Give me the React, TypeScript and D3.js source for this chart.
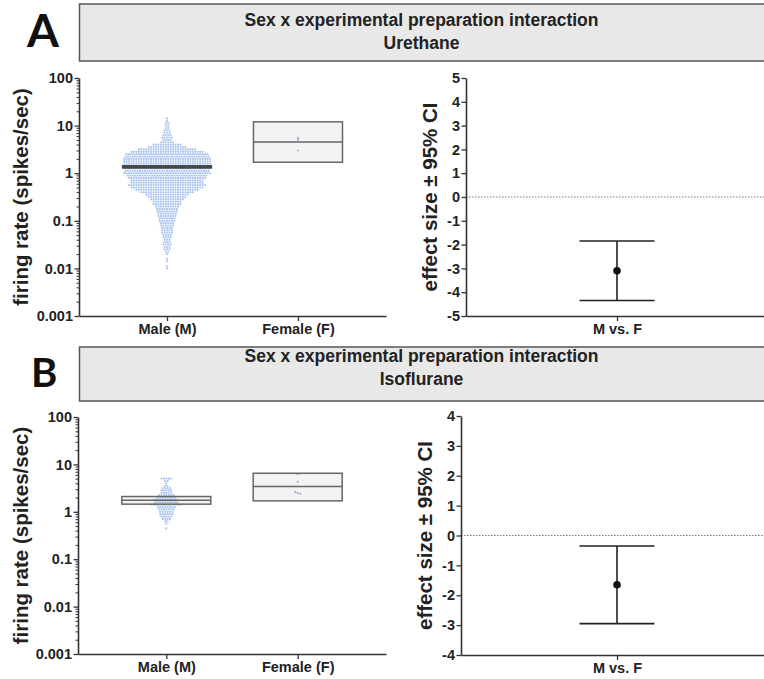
import React, { useEffect, useRef } from 'react';
import * as d3 from 'd3';

const groups = ['Male (M)', 'Female (F)'];
const contrast = ['M vs. F'];
const preparations = ['Urethane', 'Isoflurane'];
const panelLetters = ['A', 'B'];
const titleText = 'Sex x experimental preparation interaction';

const logTicks = [0.001, 0.01, 0.1, 1, 10, 100];
const logTickLabels = ['0.001', '0.01', '0.1', '1', '10', '100'];

// male firing rates as column-scatter rows: log10 of the top row, row step, points per row
const maleUrethaneTop = 1.15;
const maleUrethaneStep = 0.05;
const maleUrethaneCounts = [
  1, 1, 2, 2, 2, 3, 3, 4, 5, 4, 6,
  12, 16, 24, 30, 34, 35, 36, 36, 36, 35, 35, 35, 36,
  33, 32, 30, 30, 32, 30, 26, 22, 18, 16,
  14, 12, 12, 10, 9, 9, 8, 8, 7, 7,
  6, 6, 5, 5, 5, 4, 4, 3, 3, 4,
  3, 3, 2, 1, 0, 1, 1, 0, 1, 1,
];
const maleIsoTop = 0.7;
const maleIsoStep = 0.05;
const maleIsoCounts = [5, 2, 1, 2, 4, 5, 5, 7, 8, 10, 10, 13, 8, 7, 6, 6, 5, 4, 2, 1, 0, 1];

const femaleUrethane = [5.5, 5.0, 3.0];
const femaleIso = [6.2, 4.3, 2.6, 2.5, 2.4];

// [q1, median, q3]
const maleUrethaneBox = [1.28, 1.35, 1.44];
const femaleUrethaneBox = [1.7, 4.5, 12];
const maleIsoBox = [1.45, 1.75, 2.1];
const femaleIsoBox = [1.7, 3.4, 6.5];

// [mean, lower CI, upper CI]
const effectUrethane = [-3.1, -4.35, -1.85];
const effectIso = [-1.65, -2.95, -0.35];
const effectTicksUrethane = [-5, -4, -3, -2, -1, 0, 1, 2, 3, 4, 5];
const effectTicksIso = [-4, -3, -2, -1, 0, 1, 2, 3, 4];

const FONT = "'Liberation Sans', Arial, Helvetica, sans-serif";
const INK = '#222';
const AXIS = '#333';

const panels = [
  {
    letter: panelLetters[0], letterSize: 46, letterX: 27, letterY: 47,
    boxY: 4, boxH: 57, t1: 26, t2: 49, sub: preparations[0],
    lx: 79, ltop: 78, lbot: 316, lright: 386,
    rx: 466, rtop: 78, rbot: 316, rEnd: 768,
    effDomain: [-5, 5], effTicks: effectTicksUrethane, effect: effectUrethane,
    top: maleUrethaneTop, step: maleUrethaneStep, counts: maleUrethaneCounts,
    maleBox: maleUrethaneBox, femaleBox: femaleUrethaneBox, female: femaleUrethane,
    maleBar: true,
  },
  {
    letter: panelLetters[1], letterSize: 40, letterX: 31, letterY: 387,
    boxY: 347, boxH: 54, t1: 362, t2: 385, sub: preparations[1],
    lx: 78, ltop: 417, lbot: 654, lright: 386,
    rx: 461, rtop: 416, rbot: 655, rEnd: 773,
    effDomain: [-4, 4], effTicks: effectTicksIso, effect: effectIso,
    top: maleIsoTop, step: maleIsoStep, counts: maleIsoCounts,
    maleBox: maleIsoBox, femaleBox: femaleIsoBox, female: femaleIso,
    maleBar: false,
  },
];

const App: React.FC = () => {
  const svgRef = useRef<SVGSVGElement>(null);

  useEffect(() => {
    const svg = d3.select(svgRef.current);
    svg.selectAll('*').remove();

    const styleAxis = (g: any) => {
      g.select('.domain').attr('stroke', AXIS).attr('stroke-width', 1.6);
      g.selectAll('.tick line').attr('stroke', AXIS).attr('stroke-width', 1.3);
      g.selectAll('.tick text')
        .attr('fill', INK)
        .attr('font-family', FONT)
        .attr('font-weight', 'bold')
        .attr('font-size', 14.5);
    };

    panels.forEach((p) => {
      // header
      svg.append('text')
        .attr('x', p.letterX)
        .attr('y', p.letterY)
        .attr('font-family', "Lato, 'Open Sans', sans-serif")
        .attr('font-weight', 700)
        .attr('font-size', p.letterSize)
        .attr('fill', '#111')
        .text(p.letter);

      svg.append('rect')
        .attr('x', 79.5).attr('y', p.boxY)
        .attr('width', 700).attr('height', p.boxH)
        .attr('fill', '#e8e8e8')
        .attr('stroke', '#555').attr('stroke-width', 1.5);

      [titleText, p.sub].forEach((t, i) => {
        svg.append('text')
          .attr('x', 421.5)
          .attr('y', i === 0 ? p.t1 : p.t2)
          .attr('text-anchor', 'middle')
          .attr('font-family', FONT)
          .attr('font-weight', 'bold')
          .attr('font-size', 17.5)
          .attr('fill', INK)
          .text(t);
      });

      // ---- left: firing rate scatter
      const y = d3.scaleLog().domain([0.001, 100]).range([p.lbot, p.ltop]);
      const x = d3.scalePoint<string>().domain(groups).range([p.lx, p.lright]).padding(0.672);
      const half = 44.5;
      const g = svg.append('g');

      const boxes = [p.maleBox, p.femaleBox];
      groups.forEach((grp, gi) => {
        const b = boxes[gi];
        if (gi === 0 && p.maleBar) return;
        g.append('rect')
          .attr('x', (x(grp) as number) - half)
          .attr('y', y(b[2]))
          .attr('width', half * 2)
          .attr('height', y(b[0]) - y(b[2]))
          .attr('fill', '#f3f3f3');
      });

      // male column scatter
      const mx = x(groups[0]) as number;
      const spacing = 2.45;
      const malePts: { x: number; v: number }[] = [];
      p.counts.forEach((n, r) => {
        const v = Math.pow(10, p.top - r * p.step);
        for (let i = 0; i < n; i++) {
          malePts.push({ x: mx + (i - (n - 1) / 2) * spacing, v });
        }
      });
      g.append('g').selectAll('circle').data(malePts).join('circle')
        .attr('cx', (d) => d.x)
        .attr('cy', (d) => y(d.v))
        .attr('r', 1.1)
        .attr('fill', '#7ba3e3')
        .attr('fill-opacity', 0.62);

      // female points
      const fx = x(groups[1]) as number;
      const bins = d3.group(p.female, (v) => Math.round(Math.log10(v) / 0.05));
      const femalePts: { x: number; v: number }[] = [];
      bins.forEach((vals) => {
        vals.forEach((v, i) => femalePts.push({ x: fx + (i - (vals.length - 1) / 2) * 2.6, v }));
      });
      g.append('g').selectAll('circle').data(femalePts).join('circle')
        .attr('cx', (d) => d.x)
        .attr('cy', (d) => y(d.v))
        .attr('r', 1.1)
        .attr('fill', '#a68ed8')
        .attr('fill-opacity', 0.8);

      groups.forEach((grp, gi) => {
        const b = boxes[gi];
        const cx = x(grp) as number;
        if (gi === 0 && p.maleBar) {
          g.append('rect')
            .attr('x', cx - half).attr('y', y(b[2]))
            .attr('width', half * 2).attr('height', y(b[0]) - y(b[2]))
            .attr('fill', '#4a4a4a').attr('stroke', '#444').attr('stroke-width', 1.2);
          return;
        }
        g.append('rect')
          .attr('x', cx - half).attr('y', y(b[2]))
          .attr('width', half * 2).attr('height', y(b[0]) - y(b[2]))
          .attr('fill', 'none').attr('stroke', '#666').attr('stroke-width', 1.5);
        g.append('line')
          .attr('x1', cx - half).attr('x2', cx + half)
          .attr('y1', y(b[1])).attr('y2', y(b[1]))
          .attr('stroke', '#666').attr('stroke-width', 1.5);
      });

      // minor ticks on log axis
      const minor: number[] = [];
      for (let e = -3; e < 2; e++) for (let k = 2; k < 10; k++) minor.push(k * Math.pow(10, e));
      svg.append('g')
        .attr('transform', `translate(${p.lx},0)`)
        .call(d3.axisLeft(y).tickValues(minor).tickSize(2.5).tickFormat(() => ''))
        .call((a) => { a.select('.domain').remove(); a.selectAll('.tick line').attr('stroke', AXIS).attr('stroke-width', 1); });

      svg.append('g')
        .attr('transform', `translate(${p.lx},0)`)
        .call(d3.axisLeft(y).tickValues(logTicks).tickSize(4.5).tickSizeOuter(0).tickPadding(1.5)
          .tickFormat((d, i) => logTickLabels[i]))
        .call(styleAxis);

      svg.append('g')
        .attr('transform', `translate(0,${p.lbot})`)
        .call(d3.axisBottom(x).tickSize(5).tickSizeOuter(0).tickPadding(3))
        .call(styleAxis);

      svg.append('text')
        .attr('transform', `translate(${28},${(p.ltop + p.lbot) / 2}) rotate(-90)`)
        .attr('text-anchor', 'middle')
        .attr('font-family', FONT)
        .attr('font-weight', 'bold')
        .attr('font-size', 20.5)
        .attr('fill', INK)
        .text('firing rate (spikes/sec)');

      // ---- right: effect size
      const ye = d3.scaleLinear().domain(p.effDomain).range([p.rbot, p.rtop]);
      const xe = d3.scalePoint<string>().domain(contrast).range([p.rx, p.rEnd]).padding(0.5);

      svg.append('line')
        .attr('x1', p.rx).attr('x2', 764)
        .attr('y1', ye(0)).attr('y2', ye(0))
        .attr('stroke', '#777').attr('stroke-width', 1)
        .attr('stroke-dasharray', '1.5,1.5');

      svg.append('g')
        .attr('transform', `translate(${p.rx},0)`)
        .call(d3.axisLeft(ye).tickValues(p.effTicks).tickSize(4.5).tickSizeOuter(0).tickPadding(1.5)
          .tickFormat((d) => `${d}`))
        .call(styleAxis);

      svg.append('g')
        .attr('transform', `translate(0,${p.rbot})`)
        .call(d3.axisBottom(xe).tickSize(5).tickSizeOuter(0).tickPadding(3))
        .call(styleAxis);

      const ex = xe(contrast[0]) as number;
      const [m, lo, hi] = p.effect;
      const eg = svg.append('g').attr('stroke', INK).attr('stroke-width', 1.6);
      eg.append('line').attr('x1', ex).attr('x2', ex).attr('y1', ye(lo)).attr('y2', ye(hi));
      [lo, hi].forEach((v) => {
        eg.append('line').attr('x1', ex - 37.5).attr('x2', ex + 37.5).attr('y1', ye(v)).attr('y2', ye(v));
      });
      svg.append('circle').attr('cx', ex).attr('cy', ye(m)).attr('r', 3.8).attr('fill', '#111');

      svg.append('text')
        .attr('transform', `translate(${p.rx - 29},${(p.rtop + p.rbot) / 2}) rotate(-90)`)
        .attr('text-anchor', 'middle')
        .attr('font-family', FONT)
        .attr('font-weight', 'bold')
        .attr('font-size', 20.5)
        .attr('fill', INK)
        .text('effect size ± 95% CI');
    });
  }, []);

  return (
    <svg
      ref={svgRef}
      width={764}
      height={679}
      style={{ position: 'absolute', left: 0, top: 0, background: '#fff' }}
    />
  );
};

export default App;
